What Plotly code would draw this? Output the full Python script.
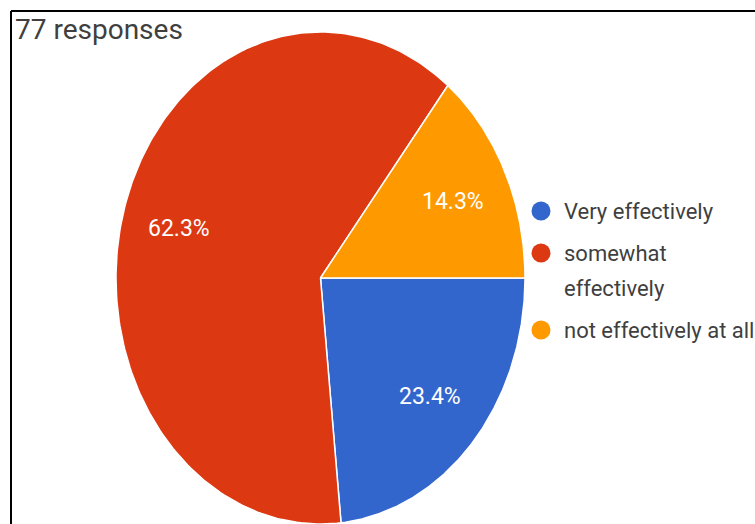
import numpy as np
import plotly.graph_objects as go

# Survey answers (77 responses)
categories = ["Very effectively", "somewhat effectively", "not effectively at all"]
shares = [23.4, 62.3, 14.3]
colors = ["#3366CC", "#DC3912", "#FF9900"]
legend_lines = [["Very effectively"], ["somewhat", "effectively"], ["not effectively at all"]]
title_text = "77 responses"

W, H = 755, 524
# Pie geometry in pixel units (the pie is drawn slightly taller than wide)
CX, CY, RX, RY = 320.5, 278.0, 204.5, 246.0
LABEL_R = 0.72
FONT = "Roboto, Arial, sans-serif"

fig = go.Figure()

total = float(sum(shares))
start = 0.0  # degrees, clockwise from 3 o'clock
annotations = []
for name, val, col in zip(categories, shares, colors):
    sweep = 360.0 * val / total
    t = np.radians(np.linspace(start, start + sweep, 200))
    xs = np.concatenate([[CX], CX + RX * np.cos(t), [CX]])
    ys = np.concatenate([[CY], CY + RY * np.sin(t), [CY]])
    fig.add_trace(go.Scatter(
        x=xs, y=ys, mode="lines", fill="toself", fillcolor=col,
        line=dict(color="white", width=1.5), name=name,
        hoverinfo="name", showlegend=False,
    ))
    mid = np.radians(start + sweep / 2)
    annotations.append(dict(
        x=CX + LABEL_R * RX * np.cos(mid), y=CY + LABEL_R * RY * np.sin(mid),
        xref="x", yref="y", text=f"{val:.1f}%", showarrow=False,
        font=dict(family=FONT, size=23, color="white"),
        xanchor="center", yanchor="middle",
    ))
    start += sweep

# Legend: coloured dots with wrapped labels
shapes = []
leg_x, dot_x, dot_r = 562, 541, 9.5
row_y = 211.0
for col, lines in zip(colors, legend_lines):
    shapes.append(dict(type="circle", xref="x", yref="y",
                       x0=dot_x - dot_r, x1=dot_x + dot_r,
                       y0=row_y - dot_r, y1=row_y + dot_r,
                       fillcolor=col, line=dict(width=0)))
    for i, ln in enumerate(lines):
        annotations.append(dict(
            x=leg_x, y=row_y + i * 35, xref="x", yref="y", text=ln,
            showarrow=False, xanchor="left", yanchor="middle",
            font=dict(family=FONT, size=22, color="#3f3f3f"),
        ))
    row_y += 42 + (len(lines) - 1) * 35

# Title
annotations.append(dict(
    x=13, y=29, xref="x", yref="y", text=title_text, showarrow=False,
    xanchor="left", yanchor="middle",
    font=dict(family=FONT, size=28, color="#3f3f3f"),
))

# Frame lines on the top and left
shapes.append(dict(type="line", xref="x", yref="y", x0=11, x1=W, y0=11, y1=11,
                   line=dict(color="black", width=2)))
shapes.append(dict(type="line", xref="x", yref="y", x0=11, x1=11, y0=11, y1=H,
                   line=dict(color="black", width=2)))

fig.update_layout(
    width=W, height=H, margin=dict(l=0, r=0, t=0, b=0),
    paper_bgcolor="white", plot_bgcolor="white",
    xaxis=dict(range=[0, W], visible=False, fixedrange=True),
    yaxis=dict(range=[H, 0], visible=False, fixedrange=True),
    annotations=annotations, shapes=shapes, showlegend=False,
)

fig.write_html("out.html")
